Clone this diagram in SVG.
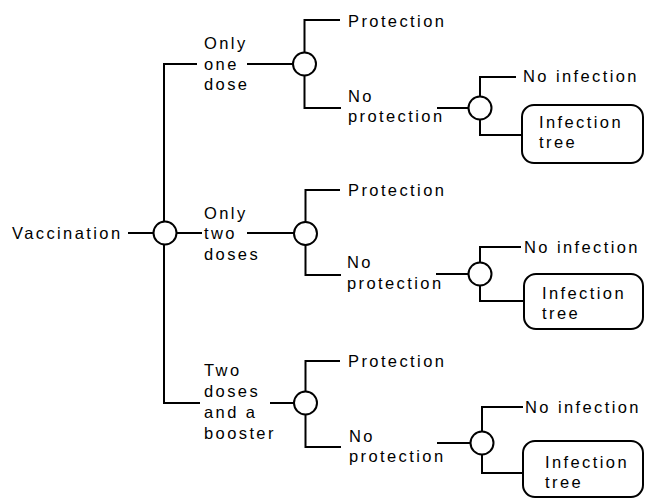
<svg xmlns="http://www.w3.org/2000/svg" width="646" height="498" viewBox="0 0 646 498">
<style>
  .t { font-family: "Liberation Sans", Arial, sans-serif; font-size: 16.5px; letter-spacing: 2.4px; fill: #000; }
  .ln { fill: none; stroke: #000; stroke-width: 2; }
  .ch { fill: #fff; stroke: #000; stroke-width: 2; }
  .box { fill: #fff; stroke: #000; stroke-width: 2; }
</style>
<rect width="646" height="498" fill="#fff"/>
<g id="connectors">
  <path class="ln" d="M128,233 H154"/>
  <path class="ln" d="M197,64 H164 V403 H200"/>
  <path class="ln" d="M176,233 H202"/>
  <path class="ln" d="M247,64 H293"/>
  <path class="ln" d="M247,233 H294"/>
  <path class="ln" d="M270,403 H294"/>
  <path class="ln" d="M340,20 H304.5 V108 H341"/>
  <path class="ln" d="M340,190 H305.5 V275 H341"/>
  <path class="ln" d="M340,361 H305.5 V447 H341"/>
  <path class="ln" d="M437,108 H469"/>
  <path class="ln" d="M436,274 H469"/>
  <path class="ln" d="M437,443 H471"/>
  <path class="ln" d="M516,77 H480 V135 H522"/>
  <path class="ln" d="M521,247 H480 V301 H524"/>
  <path class="ln" d="M523,407 H482 V473 H523"/>
</g>
<g id="vaccination"><text class="t" x="12" y="239">Vaccination</text></g>
<g id="chance-root"><circle class="ch" cx="165" cy="233" r="11.5"/></g>
<g id="opt-one-dose"><text class="t" x="204" y="49">Only</text><text class="t" x="204" y="69.5">one</text><text class="t" x="204" y="90">dose</text></g>
<g id="opt-two-doses"><text class="t" x="204" y="218.5">Only</text><text class="t" x="204" y="239">two</text><text class="t" x="204" y="259.5">doses</text></g>
<g id="opt-booster"><text class="t" x="204" y="376">Two</text><text class="t" x="204" y="397">doses</text><text class="t" x="204" y="418">and a</text><text class="t" x="204" y="439">booster</text></g>
<g id="chance-1"><circle class="ch" cx="304.5" cy="64" r="11.5"/></g>
<g id="chance-2"><circle class="ch" cx="305.5" cy="233.5" r="11.5"/></g>
<g id="chance-3"><circle class="ch" cx="305.5" cy="403" r="11.5"/></g>
<g id="protection-1"><text class="t" x="348" y="27">Protection</text></g>
<g id="protection-2"><text class="t" x="348" y="196">Protection</text></g>
<g id="protection-3"><text class="t" x="348" y="367">Protection</text></g>
<g id="noprot-1"><text class="t" x="348" y="102">No</text><text class="t" x="348" y="122">protection</text></g>
<g id="noprot-2"><text class="t" x="347" y="268">No</text><text class="t" x="347" y="289">protection</text></g>
<g id="noprot-3"><text class="t" x="349" y="442">No</text><text class="t" x="349" y="462">protection</text></g>
<g id="chance-4"><circle class="ch" cx="480" cy="108" r="11.5"/></g>
<g id="chance-5"><circle class="ch" cx="480" cy="274" r="11.5"/></g>
<g id="chance-6"><circle class="ch" cx="482" cy="443" r="11.5"/></g>
<g id="noinf-1"><text class="t" x="523" y="82">No infection</text></g>
<g id="noinf-2"><text class="t" x="524" y="253">No infection</text></g>
<g id="noinf-3"><text class="t" x="525" y="413">No infection</text></g>
<g id="inftree-1"><rect class="box" x="522" y="105" width="121" height="58" rx="12"/><text class="t" x="539" y="128">Infection</text><text class="t" x="539" y="148">tree</text></g>
<g id="inftree-2"><rect class="box" x="524" y="274" width="119" height="55" rx="12"/><text class="t" x="542" y="299">Infection</text><text class="t" x="542" y="319">tree</text></g>
<g id="inftree-3"><rect class="box" x="523" y="441" width="120" height="56" rx="12"/><text class="t" x="545" y="468">Infection</text><text class="t" x="545" y="488">tree</text></g>
</svg>
